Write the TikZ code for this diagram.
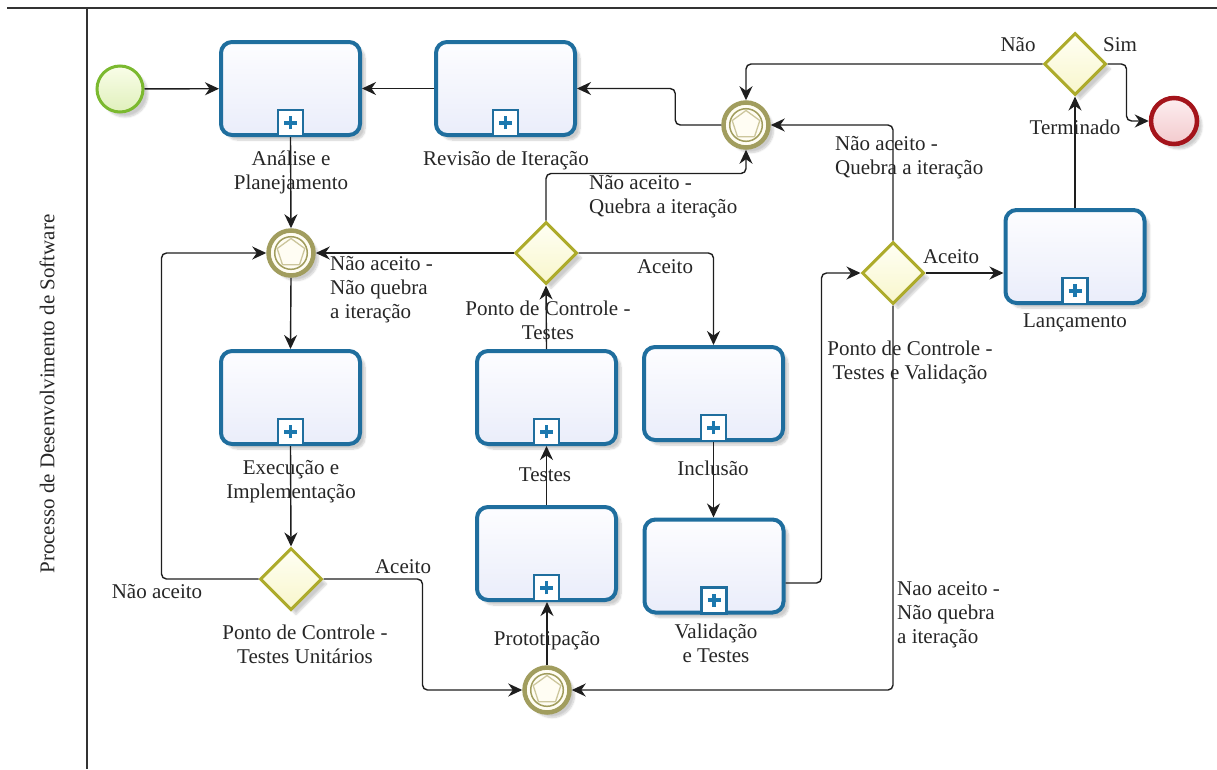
\documentclass[tikz,border=0pt]{standalone}
\usepackage{fontspec}
\setmainfont{Liberation Serif}
\usetikzlibrary{arrows.meta,shapes.geometric,shadows.blur}
\definecolor{taskblue}{HTML}{1F6E9E}
\definecolor{taskA}{HTML}{FDFDFF}
\definecolor{taskB}{HTML}{EAEDFA}
\definecolor{plusblue}{HTML}{1C78AE}
\definecolor{gwline}{HTML}{ADAB2B}
\definecolor{gwA}{HTML}{FFFFF4}
\definecolor{gwB}{HTML}{F8F6CC}
\definecolor{evring}{HTML}{A19D5E}
\definecolor{evfill}{HTML}{FFFDF3}
\definecolor{pentline}{HTML}{CCC69C}
\definecolor{startline}{HTML}{7BB92F}
\definecolor{startA}{HTML}{F9FDE8}
\definecolor{startB}{HTML}{E0F0BC}
\definecolor{endline}{HTML}{A4141B}
\definecolor{endA}{HTML}{FDEEF0}
\definecolor{endB}{HTML}{F3CACD}
\definecolor{txt}{HTML}{262626}
\definecolor{flowc}{HTML}{1E1E1E}
\definecolor{lanec}{HTML}{333333}
\tikzset{
  shd/.style={blur shadow={shadow xshift=5pt,shadow yshift=-5pt,shadow blur steps=8,shadow opacity=20}},
  task/.style={rectangle,rounded corners=11pt,draw=taskblue,line width=4pt,top color=taskA,bottom color=taskB,minimum width=139pt,minimum height=93pt,inner sep=0pt,shd},
  marker/.style={rectangle,draw=taskblue,line width=2.4pt,fill=white,minimum width=25pt,minimum height=26pt,inner sep=0pt},
  plusline/.style={draw=plusblue,line width=3.8pt},
  gw/.style={diamond,aspect=1,draw=gwline,line width=3pt,top color=gwA,bottom color=gwB,minimum width=62pt,minimum height=62pt,inner sep=0pt,shd},
  evt/.style={circle,draw=evring,line width=4.5pt,fill=evfill,minimum size=45pt,inner sep=0pt,shd},
  pent/.style={regular polygon,regular polygon sides=5,draw=pentline,line width=1.3pt,minimum size=29pt,inner sep=0pt},
  startev/.style={circle,draw=startline,line width=3pt,top color=startA,bottom color=startB,minimum size=46pt,inner sep=0pt,shd},
  endev/.style={circle,draw=endline,line width=4.5pt,top color=endA,bottom color=endB,minimum size=46pt,inner sep=0pt,shd},
  flow/.style={draw=flowc,line width=1.4pt,rounded corners=5pt,-{Stealth[length=14pt,width=13pt,inset=4.5pt]}},
  lbl/.style={text=txt,font=\fontsize{21}{24}\selectfont,inner sep=0pt},
  lane/.style={draw=lanec,line width=1.5pt}
}
\newcommand\mkr[1]{%
  \node[marker,anchor=south] (#1m) at (#1.south) {};
  \draw[plusline] ([xshift=-6.5pt]#1m.center) -- ([xshift=6.5pt]#1m.center);
  \draw[plusline] ([yshift=-6.5pt]#1m.center) -- ([yshift=6.5pt]#1m.center);
}
\newcommand\evdeco[1]{%
  \draw[draw=evring,line width=1.5pt] (#1.center) circle[radius=16.3pt];
  \node[pent] (#1p) at (#1.center) {};
}
\begin{document}
\begin{tikzpicture}[x=1pt,y=-1pt]
\useasboundingbox (0,0) rectangle (1217,769);
% lane
\draw[lane] (7,8) -- (1217,8);
\draw[lane] (87,8) -- (87,769);
\node[lbl,rotate=90] (lanelbl) at (47,394) {Processo de Desenvolvimento de Software};

% nodes
\node[startev] (start) at (120,89) {};
\node[task] (ana) at (290.5,88.5) {};
\node[task] (rev) at (505.5,88.5) {};
\node[evt] (evtTop) at (746,125) {};
\node[gw] (gwT) at (1075,64) {};
\node[endev] (endE) at (1174,121) {};
\node[task] (lan) at (1075,256.5) {};
\node[evt] (evtMid) at (291,253) {};
\node[gw] (gwTe) at (546,253) {};
\node[gw] (gwTV) at (893,273) {};
\node[task] (exe) at (290.5,397.5) {};
\node[task] (tes) at (546.5,397.5) {};
\node[task] (inc) at (713.5,393.5) {};
\node[task] (pro) at (546.5,553.5) {};
\node[task] (val) at (714,566) {};
\node[gw] (gwTU) at (291,579) {};
\node[evt] (evtBot) at (547,690) {};

\mkr{ana}\mkr{rev}\mkr{lan}\mkr{exe}\mkr{tes}\mkr{inc}\mkr{pro}\mkr{val}
\evdeco{evtTop}\evdeco{evtMid}\evdeco{evtBot}

% flows
\draw[flow] (start) -- (ana);
\draw[flow] (rev.west) -- (ana.east);
\draw[flow] (evtTop.west) -- ++(-46,0) |- (rev.east);
\draw[flow] (gwT.west) -| (evtTop.north);
\draw[flow] (gwT.east) -- ++(19,0) |- (endE.west);
\draw[flow] (lan.north) -- (gwT.south);
\draw[flow] (gwTV.east) -- (gwTV.east -| lan.west);
\draw[flow] (gwTV.north) |- (evtTop.east);
\draw[flow] (gwTV.south) |- (evtBot.east);
\draw[flow] ([yshift=-17pt]val.east) -- ++(36,0) |- (gwTV.west);
\draw[flow] (gwTe.north) -- ++(0,-47) -| (evtTop.south);
\draw[flow] (gwTe.west) -- (evtMid.east);
\draw[flow] (gwTe.east) -| (inc.north);
\draw[flow] (inc.south) -- (inc.south |- val.north);
\draw[flow] (pro.north) -- (tes.south);
\draw[flow] (tes.north) -- (gwTe.south);
\draw[flow] (evtBot.north) -- (evtBot.north |- pro.south);
\draw[flow] (gwTU.east) -- ++(99,0) |- (evtBot.west);
\draw[flow] (gwTU.west) -- ++(-97,0) |- (evtMid.west);
\draw[flow] (ana.south) -- (evtMid.north);
\draw[flow] (evtMid.south) -- (exe.north);
\draw[flow] (exe.south) -- (gwTU.north);

% labels
\node[lbl,align=center] (l1) at (291,172) {Análise e\\Planejamento};
\node[lbl] (l2) at (506,160) {Revisão de Iteração};
\node[lbl] (l3) at (1018,45) {Não};
\node[lbl] (l4) at (1120,45) {Sim};
\node[lbl] (l5) at (1075,127) {Terminado};
\node[lbl] (l6) at (1075,323) {Lançamento};
\node[lbl] (l7) at (951,257) {Aceito};
\node[lbl,align=left,anchor=west] (l8) at (835,158) {Não aceito -\\Quebra a iteração};
\node[lbl,align=left,anchor=west] (l9) at (589,197) {Não aceito -\\Quebra a iteração};
\node[lbl,align=left,anchor=west] (l10) at (330,290) {Não aceito -\\Não quebra\\a iteração};
\node[lbl] (l11) at (665,267) {Aceito};
\node[lbl,align=center] (l12) at (548,320) {Ponto de Controle -\\Testes};
\node[lbl,align=center] (l13) at (910,362) {Ponto de Controle -\\Testes e Validação};
\node[lbl,align=center] (l14) at (291,482) {Execução e\\Implementação};
\node[lbl] (l15) at (545,475) {Testes};
\node[lbl] (l16) at (713,468) {Inclusão};
\node[lbl] (l17) at (547,641) {Prototipação};
\node[lbl,align=center] (l18) at (716,643) {Validação\\e Testes};
\node[lbl,align=center] (l19) at (305,644) {Ponto de Controle -\\Testes Unitários};
\node[lbl] (l20) at (157,592) {Não aceito};
\node[lbl] (l21) at (403,567) {Aceito};
\node[lbl,align=left,anchor=west] (l22) at (897,615) {Nao aceito -\\Não quebra\\a iteração};
\end{tikzpicture}
\end{document}
